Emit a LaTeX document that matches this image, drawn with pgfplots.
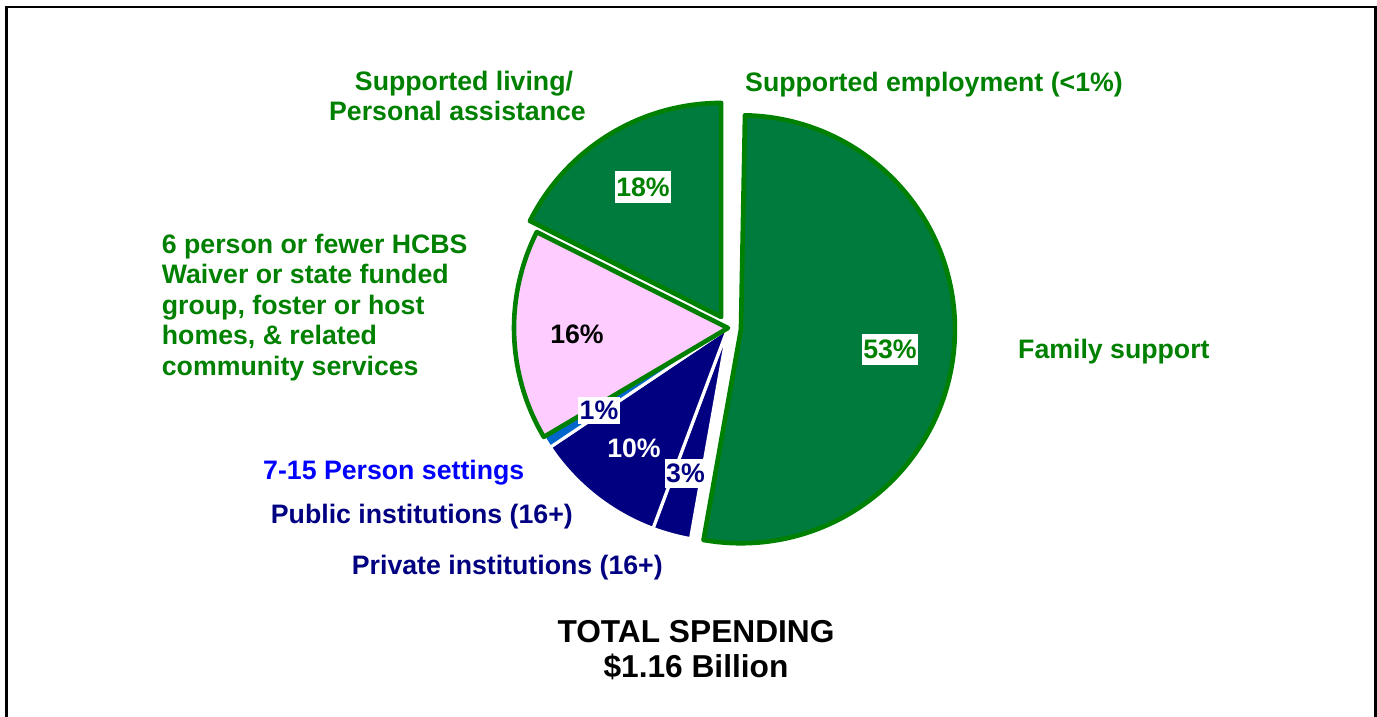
\documentclass[border=0pt]{standalone}
\usepackage{pgfplots}
\pgfplotsset{compat=1.18}
\usepackage{pgfplotstable}
\usepackage{fontspec}
\setmainfont{Liberation Sans}
\definecolor{pgreen}{HTML}{007B3E}
\definecolor{bgreen}{HTML}{008000}
\definecolor{pnavy}{HTML}{000080}
\definecolor{pblue}{HTML}{0066CC}
\definecolor{ppink}{HTML}{FFCCFF}
\definecolor{lblue}{HTML}{0000FF}
\definecolor{lgreen}{HTML}{008000}

% share of total spending (%), clockwise from 12 o'clock
\pgfplotstableread[col sep=comma]{
key,value,explode,fillc,drawc,lw,shown
SE,0.3,0,pgreen,none,0,0
FS,52.5,13,pgreen,bgreen,4.6,1
PR,2.9,0,pnavy,white,3.2,1
PU,9.9,0,pnavy,white,3.2,1
SM,0.9,0,pblue,white,3,1
GR,15.9,0,ppink,bgreen,4.6,1
SL,17.6,13,pgreen,bgreen,4.6,1
}\piedata

\newcommand{\lab}{\fontsize{26.8}{30}\selectfont\bfseries}
\newcommand{\tot}{\fontsize{31.8}{35}\selectfont\bfseries}

\begin{document}
\begin{tikzpicture}
\begin{axis}[
  width=1377bp, height=717bp, scale only axis,
  xmin=0, xmax=1377, ymin=0, ymax=717, y dir=reverse,
  hide axis, clip=true]
\pgfplotsextra{
  \pgfplotstablegetrowsof{\piedata}
  \pgfmathtruncatemacro\nrows{\pgfplotsretval-1}
  \xdef\cumangle{90}
  \foreach \i in {0,...,\nrows}{
    \pgfplotstablegetelem{\i}{value}\of\piedata \let\v\pgfplotsretval
    \pgfplotstablegetelem{\i}{explode}\of\piedata \let\ex\pgfplotsretval
    \pgfplotstablegetelem{\i}{fillc}\of\piedata \let\fc\pgfplotsretval
    \pgfplotstablegetelem{\i}{drawc}\of\piedata \let\dc\pgfplotsretval
    \pgfplotstablegetelem{\i}{lw}\of\piedata \let\lw\pgfplotsretval
    \pgfplotstablegetelem{\i}{shown}\of\piedata \let\sh\pgfplotsretval
    \pgfmathsetmacro\aone{\cumangle}
    \pgfmathsetmacro\atwo{\cumangle-3.6*\v}
    \pgfmathsetmacro\amid{(\aone+\atwo)/2}
    \pgfmathsetmacro\cx{728+\ex*cos(\amid)}
    \pgfmathsetmacro\cy{328-\ex*sin(\amid)}
    \pgfmathsetmacro\sx{\cx+214*cos(\aone)}
    \pgfmathsetmacro\sy{\cy-214*sin(\aone)}
    \ifnum\sh=1
      \filldraw[fill=\fc, draw=\dc, line width=\lw bp, line join=round]
        (axis cs:\cx,\cy) -- (axis cs:\sx,\sy)
        arc[start angle=\aone, end angle=\atwo, radius=214bp] -- cycle;
    \fi
    \xdef\cumangle{\atwo}
  }
}
% frame
\draw[line width=2.5bp, black] (axis cs:6.5,740) -- (axis cs:6.5,7) -- (axis cs:1375.5,7) -- (axis cs:1375.5,740);

% percentage labels
\node[fill=white, inner xsep=1bp, inner ysep=0pt, minimum height=31bp, text=lgreen, font=\lab] at (axis cs:643,187) {18\%};
\node[fill=white, inner xsep=1bp, inner ysep=0pt, minimum height=31bp, text=lgreen, font=\lab] at (axis cs:890,349) {53\%};
\node[text=black, font=\lab] at (axis cs:577,334) {16\%};
\node[fill=white, inner xsep=1.5bp, inner ysep=0pt, minimum height=27bp, text=pnavy, font=\lab] at (axis cs:599,410.5) {1\%};
\node[text=white, font=\lab] at (axis cs:634,448) {10\%};
\node[fill=white, inner xsep=1.5bp, inner ysep=0pt, minimum height=29bp, text=pnavy, font=\lab] at (axis cs:685.5,473) {3\%};

% category labels
\node[anchor=base, text=lgreen, font=\lab, inner sep=0pt] at (axis cs:464,91) {Supported living/};
\node[anchor=base, text=lgreen, font=\lab, inner sep=0pt] at (axis cs:457.5,121) {Personal assistance};
\node[anchor=base west, text=lgreen, font=\lab, inner sep=0pt] at (axis cs:745,92) {Supported employment (<1\%)};
\node[anchor=base west, text=lgreen, font=\lab, inner sep=0pt] at (axis cs:1018,358) {Family support};
\node[anchor=base west, text=lgreen, font=\lab, inner sep=0pt] at (axis cs:161.7,253.5) {6 person or fewer HCBS};
\node[anchor=base west, text=lgreen, font=\lab, inner sep=0pt] at (axis cs:161.7,283.5) {Waiver or state funded};
\node[anchor=base west, text=lgreen, font=\lab, inner sep=0pt] at (axis cs:161.7,314) {group, foster or host};
\node[anchor=base west, text=lgreen, font=\lab, inner sep=0pt] at (axis cs:161.7,344.5) {homes, \& related};
\node[anchor=base west, text=lgreen, font=\lab, inner sep=0pt] at (axis cs:161.7,375) {community services};
\node[anchor=base west, text=lblue, font=\lab, inner sep=0pt] at (axis cs:263,479.5) {7-15 Person settings};
\node[anchor=base west, text=pnavy, font=\lab, inner sep=0pt] at (axis cs:270.7,523.5) {Public institutions (16+)};
\node[anchor=base west, text=pnavy, font=\lab, inner sep=0pt] at (axis cs:351.7,574.5) {Private institutions (16+)};

% total
\node[anchor=base, text=black, font=\tot, inner sep=0pt] at (axis cs:696,642) {TOTAL SPENDING};
\node[anchor=base, text=black, font=\tot, inner sep=0pt] at (axis cs:696,677) {\$1.16 Billion};
\end{axis}
\pgfresetboundingbox
\path[use as bounding box] (0,0) rectangle (1377bp,717bp);
\end{tikzpicture}
\end{document}
